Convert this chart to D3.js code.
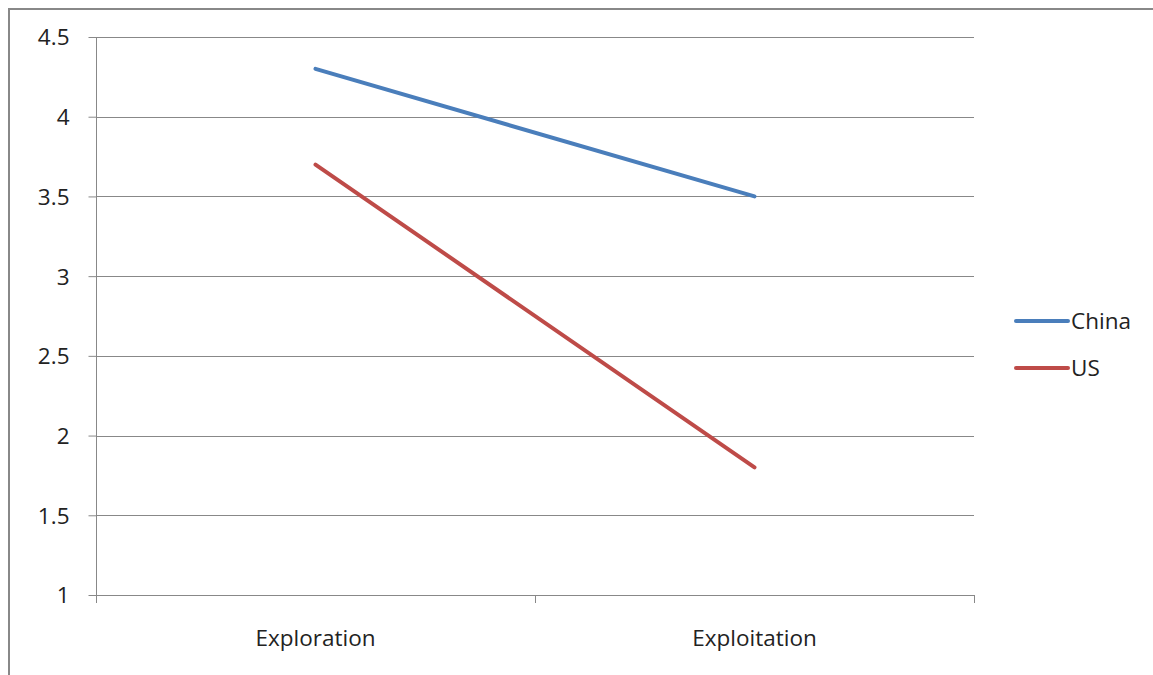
<!DOCTYPE html>
<html><head><meta charset="utf-8">
<script src="https://cdn.jsdelivr.net/npm/d3@7"></script>
<style>body{margin:0;background:#fff}svg{display:block}text{font-family:"Open Sans","Noto Sans",sans-serif;fill:#222}</style>
</head><body>
<svg id="c" width="1153" height="675"></svg>
<script>
const categories = ["Exploration", "Exploitation"];
const seriesNames = ["China", "US"];
const chinaValues = [4.3, 3.5];
const usValues = [3.7, 1.8];
const yTicks = [1, 1.5, 2, 2.5, 3, 3.5, 4, 4.5];
const colors = ["#4A7EBB", "#BE4B48"];
const FS = 22.5;

const svg = d3.select("#c");
svg.append("path").attr("d","M9,675 V9 H1153").attr("fill","none").attr("stroke","#888").attr("stroke-width",2);

const x0 = 96, x1 = 974, yTop = 37, yBot = 595;
const x = d3.scaleBand().domain(categories).range([x0, x1]);
const y = d3.scaleLinear().domain([1, 4.5]).range([yBot, yTop]);

svg.append("g").selectAll("line").data(yTicks.slice(1)).join("line")
  .attr("x1", x0).attr("x2", x1).attr("y1", d=>Math.round(y(d))+0.5).attr("y2", d=>Math.round(y(d))+0.5)
  .attr("stroke","#888").attr("stroke-width",1);

const ya = svg.append("g").attr("transform",`translate(${x0+0.5},0)`)
  .call(d3.axisLeft(y).tickValues(yTicks).tickFormat(d3.format("")).tickSize(8).tickPadding(19));
ya.select(".domain").attr("stroke","#888").attr("d",`M0,${yTop}V${yBot+8}`);
ya.selectAll(".tick line").attr("stroke","#888");
ya.selectAll(".tick text").attr("font-size",FS).attr("fill","#222").attr("dy","0.35em")
  .style("font-family",'"Open Sans","Noto Sans",sans-serif');

svg.append("line").attr("x1",x0).attr("x2",x1).attr("y1",yBot+0.5).attr("y2",yBot+0.5).attr("stroke","#888");
const xt = [x0, x0 + x.bandwidth(), x1];
svg.append("g").selectAll("line").data(xt).join("line")
  .attr("x1",d=>Math.round(d)+0.5).attr("x2",d=>Math.round(d)+0.5).attr("y1",yBot).attr("y2",yBot+8).attr("stroke","#888");
svg.append("g").selectAll("text").data(categories).join("text")
  .attr("x",d=>x(d)+x.bandwidth()/2).attr("y",646).attr("text-anchor","middle").attr("font-size",FS).text(d=>d);

const series = [chinaValues, usValues];
const line = d3.line().x((d,i)=>x(categories[i])+x.bandwidth()/2).y(d=>y(d));
series.forEach((vals,k)=>{
  svg.append("path").datum(vals).attr("d",line).attr("fill","none")
    .attr("stroke",colors[k]).attr("stroke-width",4).attr("stroke-linecap","round");
});

const lg = svg.append("g");
seriesNames.forEach((n,k)=>{
  const ly = 321 + k*47;
  lg.append("line").attr("x1",1016).attr("x2",1068).attr("y1",ly).attr("y2",ly)
    .attr("stroke",colors[k]).attr("stroke-width",4).attr("stroke-linecap","round");
  lg.append("text").attr("x",1071).attr("y",ly).attr("dy","0.35em").attr("font-size",FS).text(n);
});
</script>
</body></html>
